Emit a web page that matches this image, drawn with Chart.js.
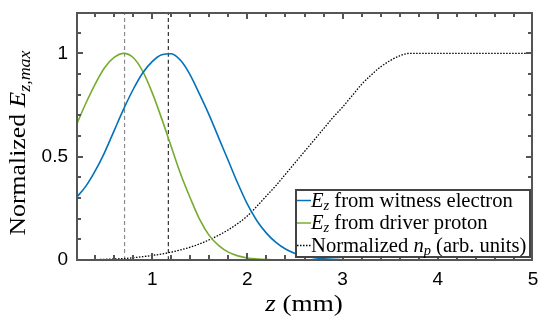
<!DOCTYPE html>
<html>
<head>
<meta charset="utf-8">
<script src="https://cdn.jsdelivr.net/npm/chart.js@4.4.1/dist/chart.umd.min.js"></script>
<style>
  html, body { margin: 0; background: #fff; }
  #wrap { width: 538px; height: 320px; }
</style>
</head>
<body>
<div id="wrap"><canvas id="fieldChart"></canvas></div>
<script>
// positions along z (mm)
const z = [0.2, 0.3, 0.4, 0.5, 0.6, 0.7, 0.8, 0.9, 1.0, 1.1,
           1.2, 1.3, 1.4, 1.5, 1.6, 1.7, 1.8, 1.9, 2.0, 2.1,
           2.2, 2.3, 2.4, 2.5, 2.6, 2.7, 2.8, 2.9, 3.0, 3.1,
           3.2, 3.3, 3.4, 3.5, 3.6, 3.7, 3.8, 3.9, 4.0, 4.1,
           4.2, 4.3, 4.4, 4.5, 4.6, 4.7, 4.8, 4.9, 5.0];

// Ez from witness electron (blue)
const witness = [0.30, 0.355, 0.43, 0.52, 0.625, 0.73, 0.825, 0.905, 0.96, 0.993,
                 0.998, 0.965, 0.895, 0.80, 0.70, 0.59, 0.48, 0.37, 0.27, 0.19,
                 0.13, 0.085, 0.053, 0.032, 0.019, 0.011, 0.006, 0.003, 0.0015, 0,
                 0, 0, 0, 0, 0, 0, 0, 0, 0, 0,
                 0, 0, 0, 0, 0, 0, 0, 0, 0];

// Ez from driver proton (green)
const driver = [0.65, 0.755, 0.85, 0.93, 0.98, 1.0, 0.98, 0.914, 0.81, 0.684,
                0.549, 0.415, 0.30, 0.195, 0.118, 0.07, 0.038, 0.02, 0.01, 0.005,
                0.002, 0.001, 0, 0, 0, 0, 0, 0, 0, 0,
                0, 0, 0, 0, 0, 0, 0, 0, 0, 0,
                0, 0, 0, 0, 0, 0, 0, 0, 0];

// normalized plasma density (dotted)
const density = [0, 0.001, 0.002, 0.003, 0.005, 0.007, 0.011, 0.016, 0.022, 0.029,
                 0.038, 0.049, 0.062, 0.078, 0.098, 0.12, 0.146, 0.177, 0.213, 0.26,
                 0.31, 0.36, 0.415, 0.47, 0.525, 0.58, 0.635, 0.69, 0.74, 0.795,
                 0.85, 0.895, 0.935, 0.965, 0.988, 1.0, 1.0, 1.0, 1.0, 1.0,
                 1.0, 1.0, 1.0, 1.0, 1.0, 1.0, 1.0, 1.0, 1.0];

// peak positions marked by the dashed lines
const peakLines = [0.71, 1.17];
const peakColors = ['#8a8a8a', '#333333'];

const xTickLabels = [1, 2, 3, 4, 5];
const yTickLabels = [0, 0.5, 1];
const xRange = [0.2, 5];
const yRange = [0, 1.2];
const xMinor = 0.2;
const yMinor = 0.1;

const BLUE = '#0072BD';
const GREEN = '#77AC30';
const AXIS = '#555555';
const SERIF = '"Liberation Serif", "Times New Roman", serif';
const SANS = '"Liberation Sans", Arial, sans-serif';

const pts = (ys) => z.map((v, i) => ({ x: v, y: ys[i] }));

const isLabel = (list, v) => list.some(t => Math.abs(t - v) < 1e-6);

// draw a row of text pieces (normal / italic / subscript), sx = horizontal stretch
function richText(ctx, parts, x, y, align, sx) {
  sx = sx || 1;
  let w = 0;
  parts.forEach(p => { ctx.font = p.font; w += ctx.measureText(p.t).width; });
  ctx.save();
  ctx.translate(x, y);
  ctx.scale(sx, 1);
  let cx = align === 'center' ? -w / 2 : 0;
  parts.forEach(p => {
    ctx.font = p.font;
    ctx.fillText(p.t, cx, p.dy || 0);
    cx += ctx.measureText(p.t).width;
  });
  ctx.restore();
}

const decor = {
  id: 'decor',
  afterDraw(chart) {
    const ctx = chart.ctx;
    const a = chart.chartArea;
    ctx.save();
    ctx.setLineDash([]);
    ctx.globalAlpha = 1;

    const L = Math.round(a.left), R = Math.round(a.right);
    const T = Math.round(a.top), B = Math.round(a.bottom);
    const toX = v => L + (v - xRange[0]) / (xRange[1] - xRange[0]) * (R - L);
    const toY = v => B - (v - yRange[0]) / (yRange[1] - yRange[0]) * (B - T);
    const W = 2; // line weight of the axes box and ticks

    ctx.fillStyle = AXIS;
    ctx.fillRect(L, T, R - L, W);
    ctx.fillRect(L, B - W + 1, R - L, W);
    ctx.fillRect(L, T, W, B - T);
    ctx.fillRect(R - W, T, W, B - T);

    // inward ticks on all four sides
    const nx = Math.round((xRange[1] - xRange[0]) / xMinor);
    for (let i = 1; i < nx; i++) {
      const v = xRange[0] + i * xMinor;
      const px = Math.round(toX(v)) - 1;
      const len = isLabel(xTickLabels, v) ? 7 : 5;
      ctx.fillRect(px, B - len, W, len);
      ctx.fillRect(px, T, W, len);
    }
    const ny = Math.round((yRange[1] - yRange[0]) / yMinor);
    for (let i = 1; i < ny; i++) {
      const v = yRange[0] + i * yMinor;
      const py = Math.round(toY(v)) - 1;
      const len = isLabel(yTickLabels, v) ? 7 : 5;
      ctx.fillRect(L, py, len, W);
      ctx.fillRect(R - len, py, len, W);
    }

    // legend
    const lx = 295, ly = 189, lw = 236, lh = 68;
    ctx.fillStyle = '#fff';
    ctx.fillRect(lx, ly, lw, lh);
    ctx.fillStyle = '#444444';
    ctx.fillRect(lx, ly, lw, W);
    ctx.fillRect(lx, ly + lh - 1, lw, W);
    ctx.fillRect(lx, ly, W, lh);
    ctx.fillRect(lx + lw - W, ly, W, lh);
    const rows = [
      { color: BLUE, dash: [], parts: [
        { t: 'E', font: `italic 20px ${SERIF}` },
        { t: 'z', font: `italic 14px ${SERIF}`, dy: 3 },
        { t: ' from witness electron', font: `20px ${SERIF}` }] },
      { color: GREEN, dash: [], parts: [
        { t: 'E', font: `italic 20px ${SERIF}` },
        { t: 'z', font: `italic 14px ${SERIF}`, dy: 3 },
        { t: ' from driver proton', font: `20px ${SERIF}` }] },
      { color: '#000', dash: [1.5, 1.5], parts: [
        { t: 'Normalized ', font: `20px ${SERIF}` },
        { t: 'n', font: `italic 20px ${SERIF}` },
        { t: 'p', font: `italic 14px ${SERIF}`, dy: 3 },
        { t: ' (arb. units)', font: `20px ${SERIF}` }] }
    ];
    const rowY = [200.5, 223, 245.5];
    rows.forEach((r, i) => {
      ctx.strokeStyle = r.color;
      ctx.lineWidth = r.dash.length ? 1.3 : 1.5;
      ctx.setLineDash(r.dash);
      ctx.beginPath();
      ctx.moveTo(lx + 2, rowY[i]);
      ctx.lineTo(lx + 16, rowY[i]);
      ctx.stroke();
      ctx.setLineDash([]);
      ctx.fillStyle = '#000';
      ctx.textBaseline = 'alphabetic';
      ctx.textAlign = 'left';
      richText(ctx, r.parts, lx + 16, rowY[i] + 6, 'left', 1.03);
    });

    // axis titles
    ctx.fillStyle = '#000';
    ctx.textAlign = 'left';
    richText(ctx, [
      { t: 'z', font: `italic 23px ${SERIF}` },
      { t: ' (mm)', font: `23px ${SERIF}` }], 304, 311, 'center', 1.18);

    ctx.translate(25, 143);
    ctx.rotate(-Math.PI / 2);
    richText(ctx, [
      { t: 'Normalized ', font: `23px ${SERIF}` },
      { t: 'E', font: `italic 23px ${SERIF}` },
      { t: 'z,max', font: `italic 16px ${SERIF}`, dy: 5 }], 0, 0, 'center', 1.12);

    ctx.restore();
  }
};

const datasets = [
  { data: pts(witness), borderColor: BLUE, borderWidth: 1.6 },
  { data: pts(driver), borderColor: GREEN, borderWidth: 1.6 },
  { data: pts(density), borderColor: '#000', borderWidth: 1.3, borderDash: [1.5, 1.5] }
];
peakLines.forEach((p, i) => {
  datasets.push({
    data: [{ x: p, y: yRange[0] }, { x: p, y: yRange[1] }],
    borderColor: peakColors[i], borderWidth: 1.2, borderDash: [4, 3]
  });
});

new Chart(document.getElementById('fieldChart'), {
  type: 'line',
  data: { datasets },
  options: {
    responsive: true,
    maintainAspectRatio: false,
    animation: false,
    layout: { padding: { top: 12, right: 5, left: 0, bottom: 0 } },
    elements: {
      point: { radius: 0 },
      line: { cubicInterpolationMode: 'monotone', fill: false }
    },
    plugins: { legend: { display: false }, tooltip: { enabled: false } },
    scales: {
      x: {
        type: 'linear',
        min: xRange[0], max: xRange[1],
        grid: { display: false, drawTicks: false },
        border: { display: false },
        ticks: {
          stepSize: xMinor, autoSkip: false, maxRotation: 0, padding: 8,
          color: '#000',
          font: { family: SANS, size: 19 },
          callback: v => isLabel(xTickLabels, v) ? String(Math.round(v)) : ''
        },
        afterFit: s => { s.height = 60; s.paddingLeft = 0; s.paddingRight = 0; }
      },
      y: {
        min: yRange[0], max: yRange[1],
        grid: { display: false, drawTicks: false },
        border: { display: false },
        ticks: {
          stepSize: yMinor, autoSkip: false, padding: 8,
          color: '#000',
          font: { family: SANS, size: 19 },
          callback: v => {
            const hit = yTickLabels.find(t => Math.abs(t - v) < 1e-6);
            return hit === undefined ? '' : String(hit);
          }
        },
        afterFit: s => { s.width = 76; s.paddingTop = 0; s.paddingBottom = 0; }
      }
    }
  },
  plugins: [decor]
});
</script>
</body>
</html>
